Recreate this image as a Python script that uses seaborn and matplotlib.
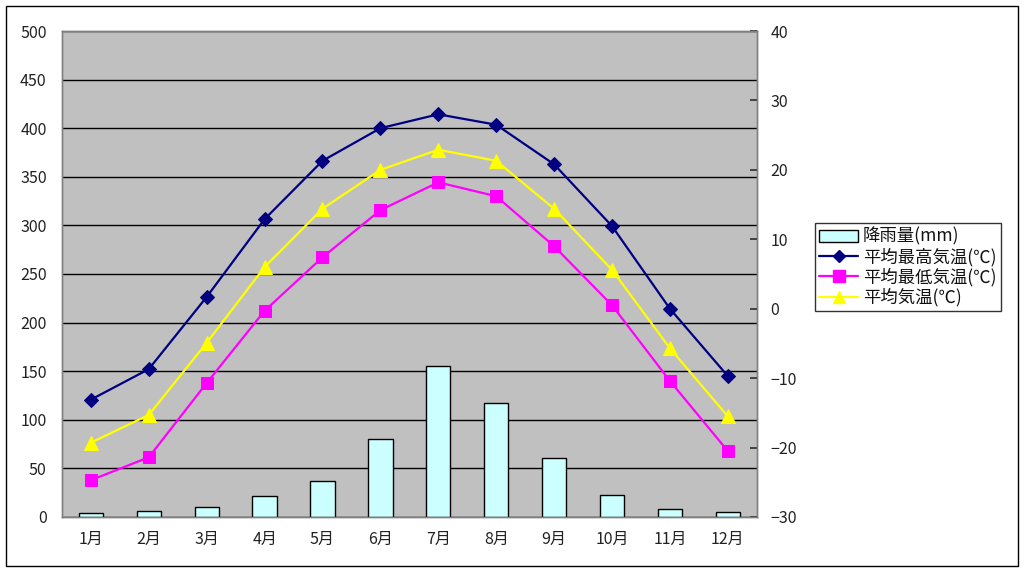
import matplotlib
matplotlib.use("Agg")
import matplotlib.pyplot as plt
import seaborn as sns
import pandas as pd
import numpy as np
from matplotlib.patches import Patch, Rectangle
from matplotlib.lines import Line2D
from matplotlib.ticker import FixedLocator, MultipleLocator

months = ["1月", "2月", "3月", "4月", "5月", "6月", "7月", "8月", "9月", "10月", "11月", "12月"]
rain = [4, 6, 10, 22, 37, 80, 155, 117, 61, 23, 8, 5]
t_high = [-13.1, -8.7, 1.7, 12.9, 21.3, 26.0, 28.0, 26.5, 20.8, 11.9, 0.0, -9.7]
t_low = [-24.7, -21.4, -10.7, -0.3, 7.4, 14.2, 18.2, 16.2, 9.0, 0.5, -10.4, -20.5]
t_mean = [-19.3, -15.3, -4.9, 6.0, 14.4, 20.0, 22.9, 21.3, 14.4, 5.6, -5.7, -15.5]

lbl_rain = "降雨量(mm)"
lbl_high = "平均最高気温(℃)"
lbl_low = "平均最低気温(℃)"
lbl_mean = "平均気温(℃)"

sns.set_theme(style="white")
plt.rcParams['font.family'] = ['Noto Sans CJK JP', 'DejaVu Sans']

df = pd.DataFrame({"month": months, "rain": rain, "high": t_high, "low": t_low, "mean": t_mean})

fig = plt.figure(figsize=(10.24, 5.72), dpi=100)
fig.patch.set_facecolor("white")
fig.add_artist(Rectangle((0.006, 0.01), 0.988, 0.98, transform=fig.transFigure,
                         fill=False, edgecolor="black", linewidth=1.0))

ax = fig.add_axes([0.0605, 0.0962, 0.6785, 0.8496])
ax.set_facecolor("#c0c0c0")
sns.barplot(data=df, x="month", y="rain", ax=ax, color="#ccffff", edgecolor="black",
            linewidth=1.0, width=0.42, saturation=1, zorder=3)
ax.set_ylim(0, 500)
ax.set_xlim(-0.5, 11.5)
ax.yaxis.set_major_locator(MultipleLocator(50))
ax.grid(axis="y", color="black", linewidth=1.0, zorder=0)
ax.set_axisbelow(True)
ax.set_xlabel("")
ax.set_ylabel("")
ax.tick_params(axis="x", which="major", length=0, pad=10, labelsize=11.5, colors="#222222")
ax.xaxis.set_minor_locator(FixedLocator(np.arange(-0.5, 12, 1)))
ax.tick_params(axis="x", which="minor", direction="in", length=4, color="#333333")
ax.tick_params(axis="y", length=0, pad=11, labelsize=11.5, labelcolor="#222222")
for s in ax.spines.values():
    s.set_color("#808080")
    s.set_linewidth(1.0)

ax2 = ax.twinx()
sns.lineplot(data=df, x="month", y="high", ax=ax2, color="#000080", marker="D",
             markersize=7, markeredgecolor="#000080", linewidth=1.6, sort=False)
sns.lineplot(data=df, x="month", y="low", ax=ax2, color="#ff00ff", marker="s",
             markersize=9, markeredgecolor="#ff00ff", linewidth=1.6, sort=False)
sns.lineplot(data=df, x="month", y="mean", ax=ax2, color="#ffff00", marker="^",
             markersize=10, markeredgecolor="#ffff00", linewidth=1.6, sort=False)
ax2.set_ylim(-30, 40)
ax2.yaxis.set_major_locator(MultipleLocator(10))
ax2.set_ylabel("")
ax2.set_xlabel("")
ax2.tick_params(axis="y", direction="in", length=5, pad=10, labelsize=11.5,
                labelcolor="#222222", color="#333333")
ax2.set_yticklabels([f"{int(v)}".replace("-", "−") for v in ax2.get_yticks()])
for s in ax2.spines.values():
    s.set_color("#808080")
    s.set_linewidth(1.0)
ax2.grid(False)

handles = [
    Patch(facecolor="#ccffff", edgecolor="black", linewidth=1.0, label=lbl_rain),
    Line2D([], [], color="#000080", marker="D", markersize=6, linewidth=1.6, label=lbl_high),
    Line2D([], [], color="#ff00ff", marker="s", markersize=8, linewidth=1.6, label=lbl_low),
    Line2D([], [], color="#ffff00", marker="^", markersize=9, linewidth=1.6, label=lbl_mean),
]
leg = fig.legend(handles=handles, loc="upper left", bbox_to_anchor=(0.796, 0.61),
                 frameon=True, fancybox=False, edgecolor="black", fontsize=12.5,
                 handlelength=2.2, handletextpad=0.3, borderpad=0.25, labelspacing=0.1,
                 borderaxespad=0)
leg.get_frame().set_linewidth(1.0)
for t in leg.get_texts():
    t.set_color("#111111")

fig.savefig("out.png", dpi=100)
